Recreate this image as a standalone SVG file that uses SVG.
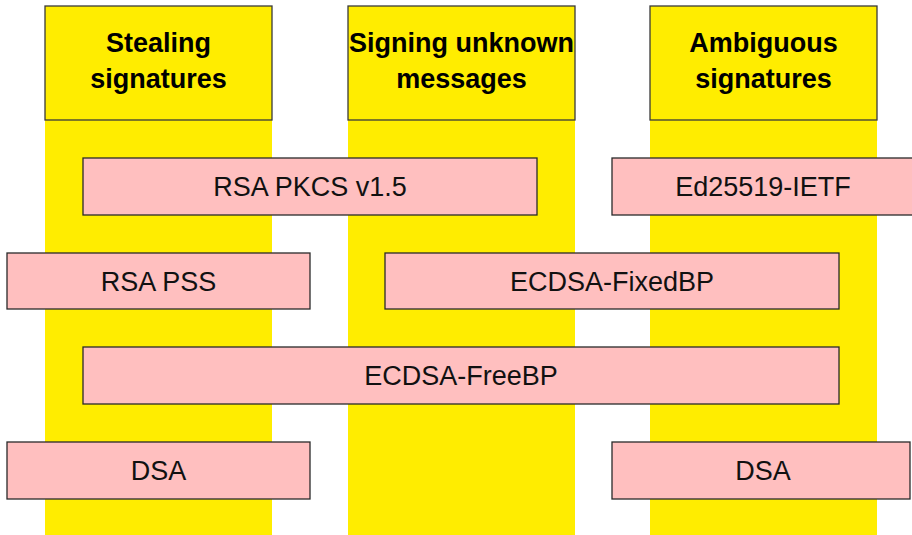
<svg xmlns="http://www.w3.org/2000/svg" width="912" height="535" viewBox="0 0 912 535">
<style>
.col{fill:#ffed00;stroke:none}
.hdr{fill:#ffed00;stroke:#3a3a3a;stroke-width:1.3}
.ht{font-family:"Liberation Sans",Arial,sans-serif;font-weight:bold;font-size:27px;fill:#000;text-anchor:middle}
.box{fill:#ffbfbf;stroke:#2a2a2a;stroke-width:1.3}
.bt{font-family:"Liberation Sans",Arial,sans-serif;font-size:27px;fill:#111;text-anchor:middle}
</style>
<rect width="912" height="535" fill="#fff"/>
<g id="col-stealing">
<rect class="col" x="45" y="6" width="227" height="529"/>
<rect class="hdr" x="45" y="6" width="227" height="114"/>
<text class="ht" x="158.5" y="52">Stealing</text>
<text class="ht" x="158.5" y="88">signatures</text>
</g>
<g id="col-signing">
<rect class="col" x="348" y="6" width="227" height="529"/>
<rect class="hdr" x="348" y="6" width="227" height="114"/>
<text class="ht" x="461.5" y="52">Signing unknown</text>
<text class="ht" x="461.5" y="88">messages</text>
</g>
<g id="col-ambiguous">
<rect class="col" x="650" y="6" width="227" height="529"/>
<rect class="hdr" x="650" y="6" width="227" height="114"/>
<text class="ht" x="763.5" y="52">Ambiguous</text>
<text class="ht" x="763.5" y="88">signatures</text>
</g>
<g id="rsa-pkcs">
<rect class="box" x="83" y="158" width="454" height="57"/>
<text class="bt" x="310" y="196">RSA PKCS v1.5</text>
</g>
<g id="ed25519">
<rect class="box" x="612" y="158" width="302" height="57"/>
<text class="bt" x="763" y="196">Ed25519-IETF</text>
</g>
<g id="rsa-pss">
<rect class="box" x="7" y="253" width="303" height="56"/>
<text class="bt" x="158.5" y="291">RSA PSS</text>
</g>
<g id="ecdsa-fixed">
<rect class="box" x="385" y="253" width="454" height="56"/>
<text class="bt" x="612" y="291">ECDSA-FixedBP</text>
</g>
<g id="ecdsa-free">
<rect class="box" x="83" y="347" width="756" height="57"/>
<text class="bt" x="461" y="385">ECDSA-FreeBP</text>
</g>
<g id="dsa-left">
<rect class="box" x="7" y="442" width="303" height="57"/>
<text class="bt" x="158.5" y="480">DSA</text>
</g>
<g id="dsa-right">
<rect class="box" x="612" y="442" width="298" height="57"/>
<text class="bt" x="763" y="480">DSA</text>
</g>
<g id="connectors"></g>
</svg>
